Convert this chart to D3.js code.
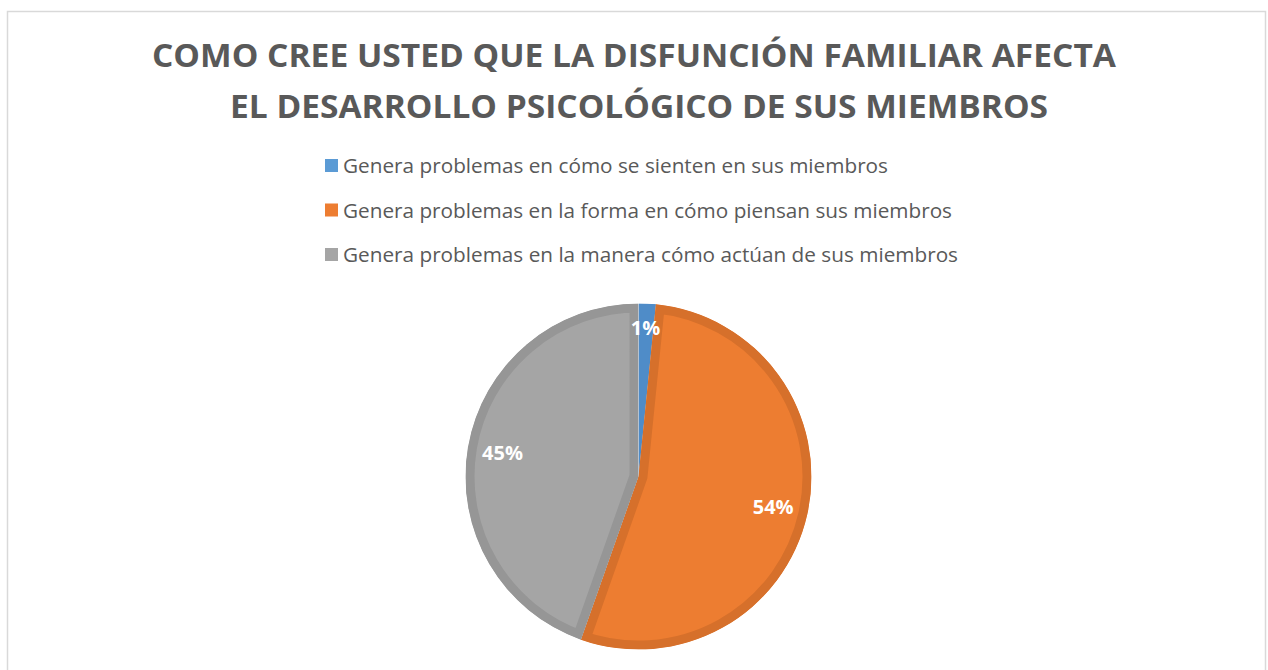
<!DOCTYPE html>
<html>
<head>
<meta charset="utf-8">
<script src="https://cdn.jsdelivr.net/npm/d3@7"></script>
<style>
  body { margin: 0; background: #fff; }
  svg { display: block; }
</style>
</head>
<body>
<svg id="chart"></svg>
<script>
// data
const titleLines = ["COMO CREE USTED QUE LA DISFUNCIÓN FAMILIAR AFECTA", "EL DESARROLLO PSICOLÓGICO DE SUS MIEMBROS"];
const categories = [
  "Genera problemas en cómo se sienten en sus miembros",
  "Genera problemas en la forma en cómo piensan sus miembros",
  "Genera problemas en la manera cómo actúan de sus miembros"
];
const values = [1.6, 53.8, 44.6];
const labels = ["1%", "54%", "45%"];
const fills = ["#5B9BD5", "#ED7D31", "#A5A5A5"];
const edges = ["#4F8CC8", "#D6702B", "#969696"];

const W = 1268, H = 670;
const svg = d3.select("#chart").attr("width", W).attr("height", H);

// chart frame
svg.append("rect")
  .attr("x", 7.5).attr("y", 11.5)
  .attr("width", 1258).attr("height", 700)
  .attr("fill", "#fff").attr("stroke", "#D9D9D9").attr("stroke-width", 1.5);

// title
const titleW = [964, 818];
const titleX = [634, 639];
svg.append("g").selectAll("text")
  .data(titleLines)
  .enter().append("text")
  .attr("x", (d, i) => titleX[i])
  .attr("y", (d, i) => 67 + i * 51)
  .attr("text-anchor", "middle")
  .attr("font-family", "'Open Sans', sans-serif")
  .attr("font-weight", "bold")
  .attr("font-size", 32)
  .attr("fill", "#595959")
  .text(d => d)
  .each(function (d, i) {
    this.setAttribute("textLength", titleW[i]);
    this.setAttribute("lengthAdjust", "spacingAndGlyphs");
  });

// legend
const legendW = [545, 609, 615];
const leg = svg.append("g").selectAll("g")
  .data(categories)
  .enter().append("g")
  .attr("transform", (d, i) => "translate(325," + (159 + i * 44.5) + ")");

leg.append("rect")
  .attr("width", 13).attr("height", 13)
  .attr("fill", (d, i) => fills[i]);

leg.append("text")
  .attr("x", 18).attr("y", 14)
  .attr("font-family", "'Open Sans', sans-serif")
  .attr("font-size", 20.5)
  .attr("fill", "#595959")
  .text(d => d)
  .each(function (d, i) {
    this.setAttribute("textLength", legendW[i]);
    this.setAttribute("lengthAdjust", "spacingAndGlyphs");
  });

// pie
const cx = 638.5, cy = 476.5, R = 173;
const pie = d3.pie().sort(null).value(d => d);
const arcs = pie(values);
const arc = d3.arc().innerRadius(0).outerRadius(R);
const labelArc = d3.arc().innerRadius(138).outerRadius(138);

const g = svg.append("g").attr("transform", "translate(" + cx + "," + cy + ")");
const defs = svg.append("defs");

defs.selectAll("clipPath")
  .data(arcs)
  .enter().append("clipPath")
  .attr("id", (d, i) => "slice" + i)
  .append("path")
  .attr("d", arc);

g.selectAll("path.slice")
  .data(arcs)
  .enter().append("path")
  .attr("class", "slice")
  .attr("d", arc)
  .attr("fill", (d, i) => fills[i])
  .attr("stroke", (d, i) => edges[i])
  .attr("stroke-width", 18)
  .attr("stroke-linejoin", "round")
  .attr("clip-path", (d, i) => "url(#slice" + i + ")");

g.selectAll("text.lbl")
  .data(arcs)
  .enter().append("text")
  .attr("class", "lbl")
  .attr("transform", (d, i) => {
    const c = labelArc.centroid(d);
    if (i === 0) c[1] -= 11;
    return "translate(" + c + ")";
  })
  .attr("text-anchor", "middle")
  .attr("dy", "0.36em")
  .attr("font-family", "'Open Sans', sans-serif")
  .attr("font-weight", "bold")
  .attr("font-size", 20)
  .attr("fill", "#fff")
  .text((d, i) => labels[i]);
</script>
</body>
</html>
